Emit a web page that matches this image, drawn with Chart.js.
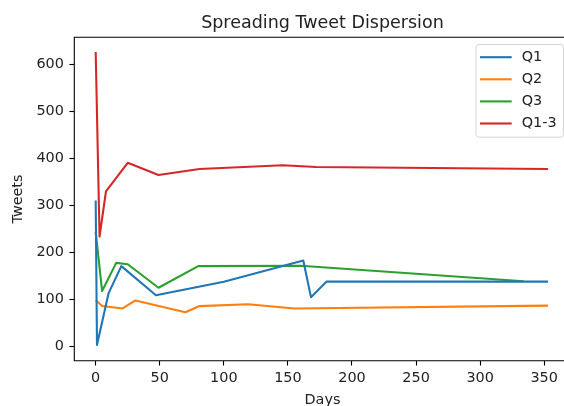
<!DOCTYPE html>
<html>
<head>
<meta charset="utf-8">
<script src="https://cdn.jsdelivr.net/npm/chart.js@4"></script>
<style>
    html, body { margin: 0; padding: 0; background: #fff; overflow: hidden; }
    #wrap { width: 564px; height: 406px; overflow: hidden; }
</style>
</head>
<body>
<div id="wrap"><canvas id="tweetChart" width="582" height="412"></canvas></div>
<script>
// values
const seriesNames = ["Q1", "Q2", "Q3", "Q1-3"]
const seriesColors = ["#1f77b4", "#ff7f0e", "#2ca02c", "#d62728"]

const q1Days = [0, 1, 10, 20, 47, 100, 162, 168, 180, 353]
const q1Tweets = [310, 2, 112, 170, 108, 137, 182, 104, 137, 137]

const q2Days = [0, 5, 21, 31, 70, 81, 119, 155, 353]
const q2Tweets = [98, 85, 80, 97, 72, 85, 89, 80, 86]

const q3Days = [0, 5, 16, 25, 49, 80, 160, 334]
const q3Tweets = [243, 117, 177, 174, 124, 170, 171, 138]

const q13Days = [0, 3, 8, 25, 49, 81, 146, 172, 353]
const q13Tweets = [626, 233, 329, 390, 364, 377, 385, 381, 377]

const dayTicks = [0, 50, 100, 150, 200, 250, 300, 350]
const tweetTicks = [0, 100, 200, 300, 400, 500, 600]

const textColor = "#222"
const fontFamily = "'DejaVu Sans', sans-serif"

function points(days, tweets) {
    return days.map((d, i) => ({ x: d, y: tweets[i] }))
}

function line(i, days, tweets) {
    return {
        label: seriesNames[i],
        data: points(days, tweets),
        borderColor: seriesColors[i],
        backgroundColor: seriesColors[i],
        borderWidth: 2.1,
        borderJoinStyle: "round",
        pointRadius: 0,
        tension: 0,
        fill: false
    }
}

function axisTicks(values) {
    return function (scale) {
        scale.ticks = values.map(v => ({ value: v }))
    }
}

// left, top and bottom spines (the right one is cut off in the reference)
// plus a matplotlib style legend box
const frameAndLegend = {
    id: "frameAndLegend",
    afterDatasetsDraw(chart) {
        const { ctx, chartArea: a } = chart
        ctx.save()
        ctx.strokeStyle = "#000"
        ctx.lineWidth = 1.1
        ctx.beginPath()
        ctx.moveTo(a.right + 2, a.top)
        ctx.lineTo(a.left, a.top)
        ctx.lineTo(a.left, a.bottom)
        ctx.lineTo(a.right + 2, a.bottom)
        ctx.stroke()

        const w = 87.4, h = 92.7
        const right = a.right - 7.2
        const left = right - w
        const top = a.top + 7.2
        ctx.beginPath()
        if (ctx.roundRect) ctx.roundRect(left, top, w, h, 3)
        else ctx.rect(left, top, w, h)
        ctx.fillStyle = "rgba(255,255,255,0.8)"
        ctx.fill()
        ctx.strokeStyle = "rgba(204,204,204,0.8)"
        ctx.lineWidth = 1
        ctx.stroke()

        ctx.font = "14.4px " + fontFamily
        ctx.textBaseline = "middle"
        ctx.textAlign = "left"
        chart.data.datasets.forEach((ds, i) => {
            const y = top + 12.7 + i * 22.1
            ctx.beginPath()
            ctx.moveTo(left + 4, y)
            ctx.lineTo(left + 35.7, y)
            ctx.strokeStyle = ds.borderColor
            ctx.lineWidth = 2.1
            ctx.stroke()
            ctx.fillStyle = textColor
            ctx.fillText(ds.label, left + 45.7, y)
        })
        ctx.restore()
    }
}

const tweetChart = new Chart(
    document.getElementById("tweetChart"),
    {
        type: "line",
        data: {
            datasets: [
                line(0, q1Days, q1Tweets),
                line(1, q2Days, q2Tweets),
                line(2, q3Days, q3Tweets),
                line(3, q13Days, q13Tweets)
            ]
        },
        options: {
            responsive: false,
            animation: false,
            layout: { padding: { left: 0, top: 0, right: 11.4, bottom: 0 } },
            plugins: {
                legend: { display: false },
                tooltip: { enabled: false },
                title: {
                    display: true,
                    text: "Spreading Tweet Dispersion",
                    fullSize: false,
                    color: textColor,
                    font: { family: fontFamily, size: 17.5, weight: "normal" },
                    padding: { top: 12.5, bottom: 3.8 }
                }
            },
            scales: {
                x: {
                    type: "linear",
                    min: -16.7,
                    max: 370.6,
                    afterBuildTicks: axisTicks(dayTicks),
                    afterFit(scale) {
                        scale.height = 51.3
                        scale.paddingLeft = 0
                        scale.paddingRight = 0
                    },
                    grid: {
                        drawOnChartArea: false,
                        drawTicks: true,
                        tickLength: 4.9,
                        tickColor: "#000",
                        tickWidth: 1.1
                    },
                    border: { display: false },
                    ticks: {
                        color: textColor,
                        padding: 4,
                        maxRotation: 0,
                        font: { family: fontFamily, size: 14.4 }
                    },
                    title: {
                        display: true,
                        text: "Days",
                        color: textColor,
                        font: { family: fontFamily, size: 14.4 },
                        padding: { top: 0, bottom: 3.5 }
                    }
                },
                y: {
                    type: "linear",
                    min: -31.3,
                    max: 657.3,
                    afterBuildTicks: axisTicks(tweetTicks),
                    afterFit(scale) {
                        scale.width = 74.3
                        scale.paddingTop = 0
                        scale.paddingBottom = 0
                    },
                    grid: {
                        drawOnChartArea: false,
                        drawTicks: true,
                        tickLength: 4.9,
                        tickColor: "#000",
                        tickWidth: 1.1
                    },
                    border: { display: false },
                    ticks: {
                        color: textColor,
                        padding: 5.5,
                        font: { family: fontFamily, size: 14.4 }
                    },
                    title: {
                        display: true,
                        text: "Tweets",
                        color: textColor,
                        font: { family: fontFamily, size: 14.4 },
                        padding: { top: 9.7, bottom: 0 }
                    }
                }
            }
        },
        plugins: [frameAndLegend]
    }
)
</script>
</body>
</html>
